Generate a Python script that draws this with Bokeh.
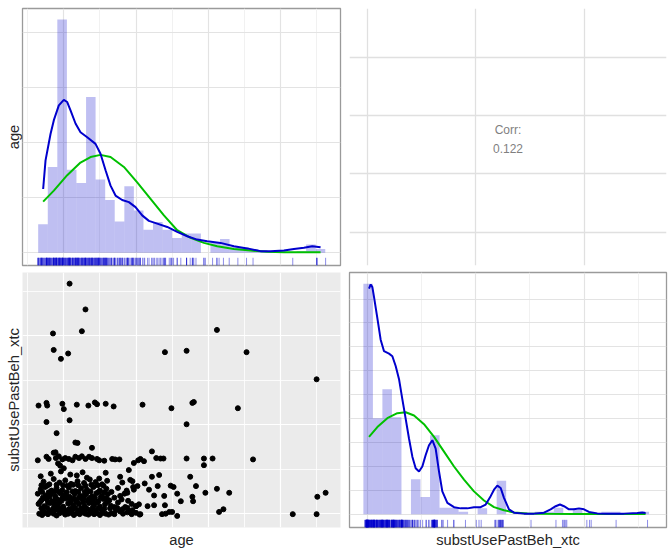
from bokeh.plotting import figure
from bokeh.layouts import gridplot
from bokeh.models import FixedTicker, Title, Label, Range1d
from bokeh.embed import file_html
from bokeh.resources import INLINE

# ---------------- data ----------------
# scatter points: age vs substUsePastBeh_xtc
age = [
    # bottom row (xtc ~ 0)
    16.6, 17.0, 17.4, 17.8, 18.2, 18.6, 19.0, 19.4, 19.8, 20.2, 20.6, 21.0, 21.4, 21.8, 22.2, 22.6,
    23.0, 23.4, 23.8, 24.2, 24.6, 25.0, 25.4, 25.8, 26.2, 26.6, 27.0, 28.2, 28.8, 29.4, 30.0, 30.5,
    33.6, 34.1, 34.6, 35.0, 35.7, 41.5, 42.1, 51.7, 55.0,
    # ~0.07
    17.1, 18.0, 18.9, 19.6, 20.4, 21.2, 22.0, 22.8, 23.6, 24.4, 25.2, 27.2, 27.8, 29.0,
    # ~0.12
    16.9, 17.7, 18.5, 19.3, 20.0, 20.8, 21.6, 22.4, 23.2, 24.0, 24.8, 25.6, 26.4,
    # ~0.2
    16.5, 17.3, 18.1, 18.7, 19.2, 19.9, 20.6, 21.3, 22.1, 22.9, 23.5, 24.2, 25.0, 25.7, 26.5, 27.0,
    28.5, 29.4, 30.0, 31.6, 32.5, 34.0,
    # ~0.26
    16.7, 17.8, 18.6, 19.4, 20.9, 21.8, 22.7, 23.9, 24.6, 26.0, 27.5,
    # ~0.3
    16.9, 17.6, 18.4, 19.1, 19.7, 20.3, 21.0, 21.7, 22.5, 23.3, 24.0, 24.8, 25.5, 26.3, 28.0, 28.9,
    36.2, 37.9,
    # ~0.36
    17.1, 18.0, 18.9, 19.8, 20.6, 21.4, 22.1, 22.8, 23.6, 24.3, 25.1, 25.9, 27.0,
    # ~0.42
    16.4, 17.5, 18.2, 18.8, 19.5, 20.1, 20.8, 21.5, 22.3, 23.1, 23.9, 24.5, 25.3, 26.1, 27.8, 28.4,
    32.5, 33.9, 35.7, 37.8, 39.6, 42.9,
    # ~0.49
    17.0, 17.9, 18.7, 19.3, 20.4, 21.2, 22.0, 22.9, 23.7, 24.8, 25.6, 26.6,
    # ~0.55
    16.8, 17.4, 18.3, 19.0, 19.8, 20.7, 21.6, 22.4, 23.2, 24.1, 25.0, 25.9, 27.5, 28.7, 29.6, 31.2,
    31.8, 33.0, 34.8, 35.2, 38.3, 41.2,
    # ~0.64
    16.9, 17.7, 19.0, 19.9, 20.5, 21.3, 22.0, 23.0, 23.8, 24.7, 25.5,
    # ~0.72
    17.2, 18.0, 18.6, 19.4, 20.2, 21.0, 21.9, 22.8, 23.6, 24.4, 25.3, 26.0, 28.1, 29.2,
    # ~0.88
    16.8, 18.2, 19.6, 20.9, 21.8, 22.6, 23.2, 24.9, 25.8, 27.8, 29.0, 32.2, 33.2, 37.5,
    # ~1.1
    19.5, 20.0, 19.2, 29.7, 39.4,
    # ~1.23
    16.4, 17.6, 17.9, 18.6, 18.9, 19.3, 19.8, 20.2, 20.7, 21.2, 21.6, 22.1, 22.5, 23.0, 23.5, 23.9,
    24.6, 24.9, 25.6, 26.7, 27.1, 27.7, 30.3, 30.6, 31.1, 32.2, 32.8, 33.4, 33.8, 37.0, 39.4, 40.6,
    46.2, 18.85,
    # 1.45 - 2.1
    23.9, 21.6, 21.9, 19.0, 17.6, 20.8, 37.0,
    # ~2.45
    16.5, 17.6, 17.7, 19.8, 20.0, 21.8, 23.4, 24.3, 24.6, 25.8, 26.9, 30.9, 34.9, 37.8, 38.0, 44.1,
    # upper
    20.8, 23.0, 18.5, 22.5, 41.2, 18.6, 20.6, 19.6, 34.0, 37.0, 45.3, 55.0,
    # right side / misc
    55.1, 56.25, 27.4, 28.1, 28.8, 29.5, 30.0, 30.4, 30.6, 29.7, 30.2, 29.5, 28.8,
]
xtc = [
    0.00, -0.03, 0.02, -0.01, 0.03, 0.00, -0.04, 0.01, 0.03, -0.02, 0.00, 0.02, -0.03, 0.01, -0.01, 0.03,
    0.00, -0.02, 0.02, -0.01, 0.01, -0.03, 0.02, 0.00, -0.02, 0.01, -0.01, 0.00, 0.03, -0.01, 0.02, -0.02,
    -0.01, 0.00, 0.04, 0.04, -0.05, 0.04, 0.10, -0.01, -0.01,
    0.08, 0.06, 0.09, 0.07, 0.06, 0.09, 0.07, 0.06, 0.08, 0.07, 0.09, 0.08, 0.05, 0.06,
    0.12, 0.13, 0.11, 0.13, 0.12, 0.11, 0.13, 0.12, 0.11, 0.13, 0.12, 0.11, 0.12,
    0.22, 0.17, 0.24, 0.18, 0.21, 0.16, 0.23, 0.19, 0.22, 0.17, 0.24, 0.19, 0.16, 0.21, 0.18, 0.15,
    0.15, 0.22, 0.17, 0.17, 0.19, 0.19,
    0.26, 0.25, 0.27, 0.26, 0.25, 0.27, 0.26, 0.25, 0.26, 0.27, 0.25,
    0.30, 0.33, 0.28, 0.32, 0.29, 0.34, 0.30, 0.28, 0.33, 0.29, 0.31, 0.28, 0.33, 0.30, 0.32, 0.29,
    0.28, 0.28,
    0.36, 0.37, 0.35, 0.36, 0.37, 0.35, 0.36, 0.37, 0.35, 0.36, 0.37, 0.35, 0.36,
    0.45, 0.41, 0.44, 0.39, 0.46, 0.42, 0.38, 0.45, 0.40, 0.44, 0.39, 0.46, 0.41, 0.44, 0.40, 0.45,
    0.41, 0.40, 0.45, 0.38, 0.47, 0.47,
    0.49, 0.48, 0.50, 0.49, 0.48, 0.50, 0.49, 0.48, 0.50, 0.49, 0.48, 0.49,
    0.55, 0.60, 0.52, 0.58, 0.53, 0.59, 0.51, 0.57, 0.54, 0.60, 0.52, 0.56, 0.58, 0.52, 0.60, 0.68,
    0.54, 0.62, 0.63, 0.60, 0.62, 0.56,
    0.64, 0.63, 0.65, 0.64, 0.63, 0.65, 0.64, 0.63, 0.65, 0.64, 0.63,
    0.72, 0.66, 0.78, 0.70, 0.75, 0.67, 0.73, 0.69, 0.77, 0.71, 0.66, 0.74, 0.70, 0.76,
    0.84, 0.90, 0.95, 0.88, 0.86, 0.93, 0.81, 0.79, 0.92, 0.83, 0.98, 0.83, 0.87, 0.83,
    1.08, 1.02, 1.13, 1.14, 1.09,
    1.20, 1.28, 1.23, 1.37, 1.25, 1.29, 1.22, 1.25, 1.23, 1.20, 1.28, 1.25, 1.29, 1.23, 1.28, 1.25,
    1.23, 1.20, 1.19, 1.23, 1.22, 1.22, 1.20, 1.23, 1.18, 1.40, 1.25, 1.24, 1.24, 1.24, 1.24, 1.24,
    1.22, 1.38,
    1.48, 1.60, 1.59, 1.81, 2.06, 2.10, 2.01,
    2.43, 2.49, 2.43, 2.47, 2.35, 2.45, 2.43, 2.50, 2.46, 2.47, 2.41, 2.45, 2.37, 2.49, 2.51, 2.37,
    5.17, 4.59, 4.05, 4.10, 4.13, 3.68, 3.60, 3.48, 3.63, 3.66, 3.63, 3.02,
    0.38, 0.47, 0.13, 0.10, 0.13, 0.08, 0.17, 0.21, -0.01, 0.54, 0.62, 0.73, 0.47,
]

# age histogram (30 bins), bar heights in density units (x0.01)
age_bin_edges = [16.45, 17.78, 19.10, 20.43, 21.75, 23.08, 24.40, 25.73, 27.05, 28.38, 29.70,
                 31.03, 32.35, 33.68, 35.00, 36.33, 37.65, 38.98, 40.30, 41.63, 42.95,
                 44.28, 45.60, 46.93, 48.25, 49.58, 50.90, 52.23, 53.55, 54.88, 56.20]
age_hist = [0.52, 1.56, 4.24, 1.51, 1.27, 2.83, 1.33, 0.96, 0.57, 1.21, 0.77, 0.42, 0.56, 0.42,
            0.27, 0.35, 0.35, 0.00, 0.18, 0.25, 0.10, 0.10, 0.07, 0.04, 0.03, 0.00, 0.00, 0.03,
            0.15, 0.07]
# age kernel density (blue) and fitted normal (green)
age_kde_x = [17.14, 17.47, 18.16, 18.62, 19.31, 20.00, 20.47, 20.93, 21.62, 22.31, 23.24, 24.39,
             25.08, 25.78, 26.47, 27.16, 28.08, 29.01, 29.93, 30.85, 31.78, 32.93, 34.32, 35.70,
             37.09, 38.47, 39.86, 41.70, 43.55, 45.40, 47.24, 48.63, 50.48, 51.86, 53.25, 54.40,
             55.55]
age_kde_y = [1.16, 1.68, 2.16, 2.41, 2.68, 2.78, 2.74, 2.59, 2.35, 2.19, 2.10, 1.98, 1.80, 1.50,
             1.22, 1.04, 0.96, 0.92, 0.83, 0.68, 0.58, 0.53, 0.47, 0.38, 0.30, 0.24, 0.21, 0.18,
             0.12, 0.08, 0.03, 0.03, 0.04, 0.07, 0.09, 0.12, 0.10]
age_norm_x = [17.14, 18.62, 20.47, 22.31, 23.70, 25.08, 26.47, 28.32, 30.16, 32.01, 33.86, 35.70,
              37.55, 39.40, 41.24, 43.55, 45.86, 48.17, 50.48, 55.55]
age_norm_y = [0.93, 1.13, 1.41, 1.64, 1.74, 1.78, 1.74, 1.56, 1.28, 0.98, 0.68, 0.41, 0.27, 0.18,
              0.12, 0.07, 0.04, 0.02, 0.01, 0.01]

# substUsePastBeh_xtc histogram (30 bins)
xtc_bin_edges = [-0.074, 0.102, 0.277, 0.453, 0.629, 0.804, 0.980, 1.156, 1.332, 1.507, 1.683,
                 1.859, 2.034, 2.210, 2.386, 2.561, 2.737, 2.913, 3.088, 3.264, 3.440, 3.615,
                 3.791, 3.967, 4.143, 4.318, 4.494, 4.670, 4.845, 5.021, 5.197]
xtc_hist = [9.64, 4.02, 5.23, 4.06, 0.00, 1.47, 0.73, 3.31, 0.28, 0.28, 0.11, 0.00, 0.25, 0.00,
            1.40, 0.00, 0.00, 0.00, 0.11, 0.11, 0.28, 0.00, 0.25, 0.00, 0.00, 0.11, 0.11, 0.00,
            0.00, 0.11]
xtc_kde_x = [0.030, 0.061, 0.092, 0.122, 0.184, 0.245, 0.307, 0.399, 0.461, 0.522, 0.584, 0.645,
             0.707, 0.768, 0.830, 0.891, 0.953, 1.014, 1.076, 1.137, 1.199, 1.260, 1.322, 1.383,
             1.476, 1.599, 1.722, 1.845, 1.967, 2.090, 2.183, 2.275, 2.337, 2.398, 2.460, 2.521,
             2.613, 2.706, 2.890, 3.075, 3.259, 3.382, 3.475, 3.554, 3.628, 3.720, 3.813, 3.905,
             3.997, 4.089, 4.243, 4.428, 4.735, 4.981, 5.073, 5.134]
xtc_kde_y = [9.44, 9.61, 9.50, 9.09, 8.20, 7.30, 6.82, 6.72, 6.61, 6.20, 5.65, 4.82, 3.99, 3.17,
             2.41, 1.93, 1.79, 2.00, 2.48, 2.89, 3.10, 2.75, 1.79, 0.96, 0.48, 0.30, 0.25, 0.25,
             0.30, 0.30, 0.41, 0.76, 1.03, 1.20, 1.10, 0.69, 0.21, 0.07, 0.03, 0.03, 0.07, 0.21,
             0.34, 0.41, 0.34, 0.21, 0.21, 0.25, 0.21, 0.10, 0.04, 0.03, 0.03, 0.06, 0.08, 0.06]
xtc_norm_x = [0.030, 0.184, 0.368, 0.553, 0.707, 0.861, 1.045, 1.230, 1.414, 1.599, 1.783, 1.967,
              2.152, 2.337, 2.521, 2.706, 2.952, 3.198, 3.813, 5.134]
xtc_norm_y = [3.24, 3.65, 4.02, 4.23, 4.27, 4.13, 3.77, 3.24, 2.62, 2.00, 1.45, 0.96, 0.58, 0.30,
              0.17, 0.08, 0.04, 0.03, 0.01, 0.01]

corr_text = ["Corr:", "0.122"]
age_label = "age"
xtc_label = "substUsePastBeh_xtc"

# ---------------- layout / style ----------------
AGE_RANGE = (14.28, 58.31)
XTC_RANGE = (-0.33, 5.52)
FONT = "Liberation Sans"
BLUE = "#0000CD"
GREEN = "#00C000"
LABEL_COLOR = "#262626"


def make(width, height, xr, yr, borders):
    l, r, t, b = borders
    p = figure(width=width, height=height, x_range=Range1d(*xr), y_range=Range1d(*yr),
               output_backend="svg", toolbar_location=None,
               min_border_left=l, min_border_right=r, min_border_top=t, min_border_bottom=b)
    p.xaxis.visible = False
    p.yaxis.visible = False
    p.border_fill_color = "white"
    return p


def axis_title(p, text, side, standoff):
    p.add_layout(Title(text=text, align="center", text_font=FONT, text_font_size="14.7px",
                       text_font_style="normal", text_color=LABEL_COLOR, standoff=standoff), side)


def rug_segments(p, vals, vertical_range):
    y0 = vertical_range[0]
    y1 = vertical_range[0] + 0.03 * (vertical_range[1] - vertical_range[0])
    p.segment(x0=vals, x1=vals, y0=[y0] * len(vals), y1=[y1] * len(vals),
              line_color=BLUE, line_alpha=0.45, line_width=1)


def light_grid(p, xticks, xminor, yticks):
    p.xgrid.ticker = FixedTicker(ticks=xticks, minor_ticks=xminor)
    p.ygrid.ticker = FixedTicker(ticks=yticks)
    p.xgrid.grid_line_color = "#E3E3E3"
    p.xgrid.grid_line_width = 1.2
    p.xgrid.minor_grid_line_color = "#EFEFEF"
    p.xgrid.minor_grid_line_width = 0.9
    p.ygrid.grid_line_color = "#E3E3E3"
    p.ygrid.grid_line_width = 1.2


# --- top-left: age diagonal ---
TL_Y = (-0.231, 4.44)
p_tl = make(342, 268, AGE_RANGE, TL_Y, (22, 2, 8, 3))
light_grid(p_tl, [20, 30, 40, 50], [15, 25, 35, 45, 55], [0, 1, 2, 3, 4])
p_tl.outline_line_color = "#9A9A9A"
p_tl.outline_line_width = 1.3
p_tl.quad(left=age_bin_edges[:-1], right=age_bin_edges[1:], bottom=0, top=age_hist,
          fill_color=BLUE, fill_alpha=0.25, line_color=None)
rug_segments(p_tl, age, TL_Y)
p_tl.line(age_norm_x, age_norm_y, line_color=GREEN, line_width=2)
p_tl.line(age_kde_x, age_kde_y, line_color=BLUE, line_width=2)
axis_title(p_tl, age_label, "left", 2)

# --- top-right: correlation ---
p_tr = make(326, 268, XTC_RANGE, AGE_RANGE, (7, 2, 8, 3))
p_tr.xgrid.ticker = FixedTicker(ticks=[0, 2, 4])
p_tr.ygrid.ticker = FixedTicker(ticks=[20, 30, 40, 50])
p_tr.grid.grid_line_color = "#E0E0E0"
p_tr.grid.grid_line_width = 1.3
p_tr.outline_line_color = None
xmid = (XTC_RANGE[0] + XTC_RANGE[1]) / 2
ymid = (AGE_RANGE[0] + AGE_RANGE[1]) / 2
for txt, off in zip(corr_text, [7, -11]):
    p_tr.add_layout(Label(x=xmid, y=ymid, text=txt, text_align="center", text_baseline="middle",
                          y_offset=off, text_font=FONT, text_font_size="12px",
                          text_color="#7F7F7F"))

# --- bottom-left: scatter ---
BL_Y = (-0.31, 5.42)
p_bl = make(342, 281, AGE_RANGE, BL_Y, (22, 2, 4, 21))
p_bl.background_fill_color = "#EBEBEB"
p_bl.outline_line_color = None
p_bl.xgrid.ticker = FixedTicker(ticks=[20, 30, 40, 50], minor_ticks=[15, 25, 35, 45, 55])
p_bl.ygrid.ticker = FixedTicker(ticks=[0, 2, 4], minor_ticks=[1, 3, 5])
p_bl.grid.grid_line_color = "white"
p_bl.grid.grid_line_width = 1.2
p_bl.grid.minor_grid_line_color = "white"
p_bl.grid.minor_grid_line_width = 0.8
p_bl.scatter(age, xtc, size=5, color="black")
axis_title(p_bl, xtc_label, "left", 2)
axis_title(p_bl, age_label, "below", 4)

# --- bottom-right: xtc diagonal ---
BR_Y = (-0.55, 10.11)
p_br = make(326, 281, XTC_RANGE, BR_Y, (7, 2, 4, 19))
light_grid(p_br, [0, 2, 4], [1, 3, 5], list(range(0, 10)))
p_br.outline_line_color = "#9A9A9A"
p_br.outline_line_width = 1.3
p_br.quad(left=xtc_bin_edges[:-1], right=xtc_bin_edges[1:], bottom=0, top=xtc_hist,
          fill_color=BLUE, fill_alpha=0.25, line_color=None)
rug_segments(p_br, xtc, BR_Y)
p_br.line(xtc_norm_x, xtc_norm_y, line_color=GREEN, line_width=2)
p_br.line(xtc_kde_x, xtc_kde_y, line_color=BLUE, line_width=2)
axis_title(p_br, xtc_label, "below", 4)

grid = gridplot([[p_tl, p_tr], [p_bl, p_br]], toolbar_location=None)

with open("out.html", "w") as f:
    f.write(file_html(grid, INLINE))
